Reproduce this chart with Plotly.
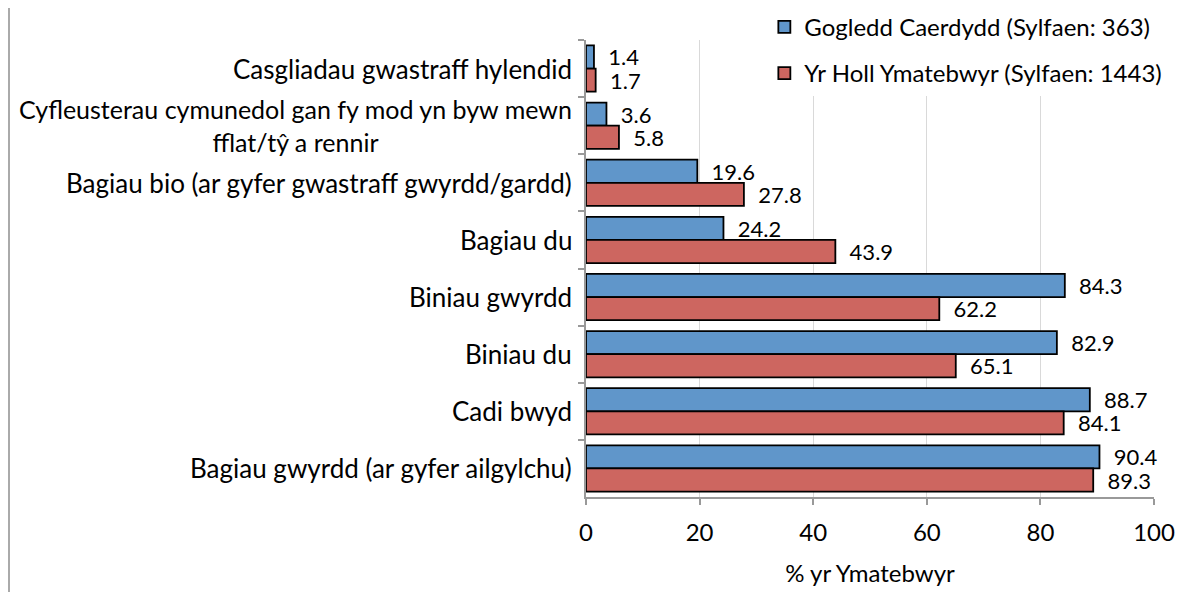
import plotly.graph_objects as go

categories = [
    "Casgliadau gwastraff hylendid",
    "Cyfleusterau cymunedol gan fy mod yn byw mewn<br>fflat/tŷ a rennir",
    "Bagiau bio (ar gyfer gwastraff gwyrdd/gardd)",
    "Bagiau du",
    "Biniau gwyrdd",
    "Biniau du",
    "Cadi bwyd",
    "Bagiau gwyrdd (ar gyfer ailgylchu)",
]
north_cardiff = [1.4, 3.6, 19.6, 24.2, 84.3, 82.9, 88.7, 90.4]
all_respondents = [1.7, 5.8, 27.8, 43.9, 62.2, 65.1, 84.1, 89.3]
series_names = ["Gogledd Caerdydd (Sylfaen: 363)", "Yr Holl Ymatebwyr (Sylfaen: 1443)"]
x_ticks = [0, 20, 40, 60, 80, 100]

FONT = "Lato, 'Open Sans', sans-serif"
fig = go.Figure()
for i, (name, vals, col) in enumerate([(series_names[0], north_cardiff, "#6096CA"),
                                       (series_names[1], all_respondents, "#CD6660")]):
    fig.add_trace(go.Bar(
        y=categories, x=vals, orientation="h", name=name, legendgroup=f"g{i}",
        marker=dict(color=col, line=dict(color="black", width=1.8)),
        text=[f"\u00a0\u00a0{v:.1f}" for v in vals], textposition="outside",
        constraintext="none",
        textfont=dict(size=22, color="black", family=FONT),
        cliponaxis=False,
    ))

annotations = []
for c in categories:
    annotations.append(dict(
        x=0, xref="paper", y=c, yref="y", text=c, showarrow=False,
        xanchor="right", xshift=-12, align="center",
        font=dict(size=25 if "<br>" in c else 26, color="black", family=FONT),
    ))

fig.update_layout(
    width=1195, height=584,
    margin=dict(l=578, r=49, t=32, b=95, autoexpand=False),
    paper_bgcolor="white", plot_bgcolor="white",
    barmode="group", bargap=0.19, bargroupgap=0,
    font=dict(family=FONT, size=24, color="black"),
    showlegend=True,
    legend=dict(x=0.314, y=1.077, xanchor="left", yanchor="top",
                bgcolor="white", font=dict(size=24, family=FONT),
                itemwidth=30, traceorder="grouped", tracegroupgap=12,
                borderwidth=0),
    xaxis=dict(range=[0, 100], tickvals=x_ticks, showgrid=True,
               gridcolor="#D9D9D9", gridwidth=1.3, showline=True,
               linecolor="#999999", linewidth=2, ticks="outside",
               tickcolor="#999999", ticklen=6, tickwidth=2, zeroline=False,
               tickfont=dict(size=24), automargin=False, ticklabelstandoff=7,
               title=dict(text="% yr Ymatebwyr", font=dict(size=24), standoff=20)),
    yaxis=dict(autorange="reversed", showticklabels=False, showline=True,
               linecolor="#999999", linewidth=2, ticks="outside",
               tickson="boundaries", tickcolor="#999999", ticklen=6,
               tickwidth=2, showgrid=False, automargin=False),
    annotations=annotations,
    shapes=[dict(type="line", xref="paper", yref="paper",
                 x0=(1 - 578) / 568, x1=(1 - 578) / 568, y0=-0.3, y1=1.2,
                 line=dict(color="#AAAAAA", width=2))],
)
fig.write_html("out.html")
